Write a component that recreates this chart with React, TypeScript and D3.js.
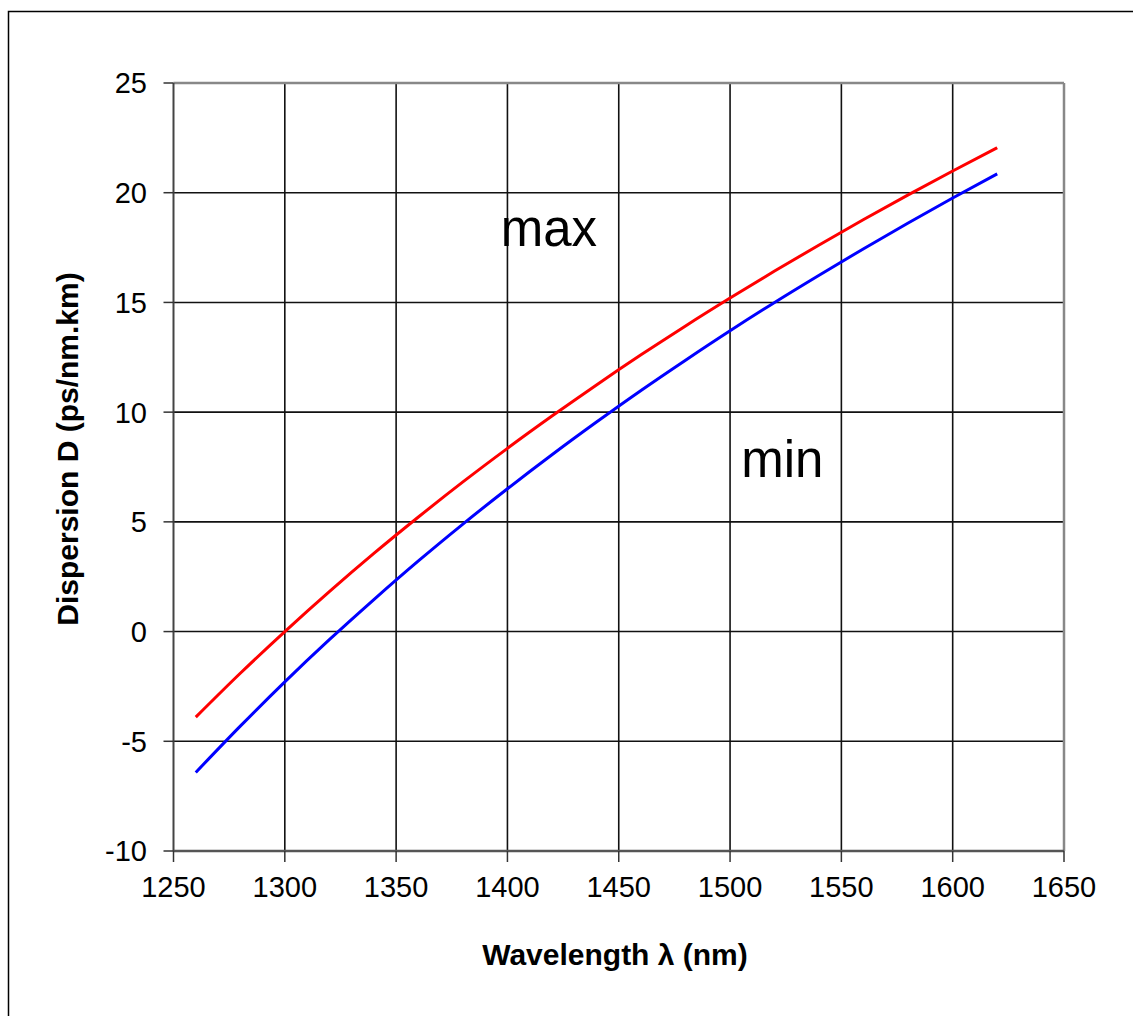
import React from "react";
import * as d3 from "d3";

const wavelengths = [1260, 1280, 1300, 1320, 1340, 1360, 1380, 1400, 1420, 1440, 1460, 1480, 1500, 1520, 1540, 1560, 1580, 1600, 1620];
const maxDispersion = [-3.9, -1.9, 0, 1.82, 3.56, 5.22, 6.82, 8.35, 9.82, 11.24, 12.61, 13.93, 15.2, 16.43, 17.62, 18.78, 19.9, 20.99, 22.05];
const minDispersion = [-6.42, -4.31, -2.29, -0.37, 1.46, 3.22, 4.9, 6.51, 8.06, 9.55, 10.99, 12.37, 13.71, 15.0, 16.24, 17.45, 18.62, 19.76, 20.86];
const xTicks = [1250, 1300, 1350, 1400, 1450, 1500, 1550, 1600, 1650];
const yTicks = [-10, -5, 0, 5, 10, 15, 20, 25];
const xTitle = "Wavelength \u03bb (nm)";
const yTitle = "Dispersion D (ps/nm.km)";
const curveLabels = [
  { text: "max", x: 1397, y: 17.55 },
  { text: "min", x: 1505, y: 7.05 },
];

const W = 1133;
const H = 1016;
const L = 173.5, R = 1064, T = 83, B = 851;
const FONT = "'Liberation Sans', Arial, sans-serif";

export default function App() {
  const x = d3.scaleLinear().domain([1250, 1650]).range([L, R]);
  const y = d3.scaleLinear().domain([-10, 25]).range([B, T]);
  const line = d3
    .line<number>()
    .x((_, i) => x(wavelengths[i]))
    .y((d) => y(d))
    .curve(d3.curveMonotoneX);

  return (
    <svg
      width={W}
      height={H}
      style={{ position: "absolute", left: 0, top: 0, background: "#fff" }}
      fontFamily={FONT}
    >
      <rect x={0} y={0} width={W} height={H} fill="#fff" />
      {/* outer frame */}
      <rect x={8.5} y={11.5} width={W + 10} height={H + 10} fill="none" stroke="#000" strokeWidth={1.5} />
      {/* grid */}
      {xTicks.slice(1, -1).map((t) => (
        <line key={"gx" + t} x1={x(t)} x2={x(t)} y1={T} y2={B} stroke="#111" strokeWidth={1.6} />
      ))}
      {yTicks.slice(1, -1).map((t) => (
        <line key={"gy" + t} x1={L} x2={R} y1={y(t)} y2={y(t)} stroke="#111" strokeWidth={1.6} />
      ))}
      {/* plot border */}
      <line x1={L} x2={R} y1={T} y2={T} stroke="#888" strokeWidth={2.5} />
      <line x1={R} x2={R} y1={T} y2={B} stroke="#888" strokeWidth={2.5} />
      <line x1={L} x2={L} y1={T} y2={B} stroke="#444" strokeWidth={2} />
      <line x1={L} x2={R} y1={B} y2={B} stroke="#555" strokeWidth={2.5} />
      {/* ticks */}
      {xTicks.map((t) => (
        <g key={"tx" + t}>
          <line x1={x(t)} x2={x(t)} y1={B} y2={B + 11} stroke="#333" strokeWidth={1.5} />
          <text x={x(t)} y={897} fontSize={29} textAnchor="middle" fill="#000">
            {t}
          </text>
        </g>
      ))}
      {yTicks.map((t) => (
        <g key={"ty" + t}>
          <line x1={L - 10} x2={L} y1={y(t)} y2={y(t)} stroke="#333" strokeWidth={1.5} />
          <text x={147} y={y(t)} dy="0.36em" fontSize={29} textAnchor="end" fill="#000">
            {t}
          </text>
        </g>
      ))}
      {/* curves */}
      <path d={line(maxDispersion) || ""} fill="none" stroke="#ff0000" strokeWidth={3} />
      <path d={line(minDispersion) || ""} fill="none" stroke="#0000ff" strokeWidth={3} />
      {/* curve labels */}
      {curveLabels.map((c) => (
        <text key={c.text} x={x(c.x)} y={y(c.y)} fontSize={51} fill="#000">
          {c.text}
        </text>
      ))}
      {/* axis titles */}
      <text x={615} y={965} fontSize={30} fontWeight="bold" textAnchor="middle" fill="#000">
        {xTitle}
      </text>
      <text
        transform={`translate(78, 449) rotate(-90)`}
        fontSize={30}
        fontWeight="bold"
        textAnchor="middle"
        fill="#000"
      >
        {yTitle}
      </text>
    </svg>
  );
}
